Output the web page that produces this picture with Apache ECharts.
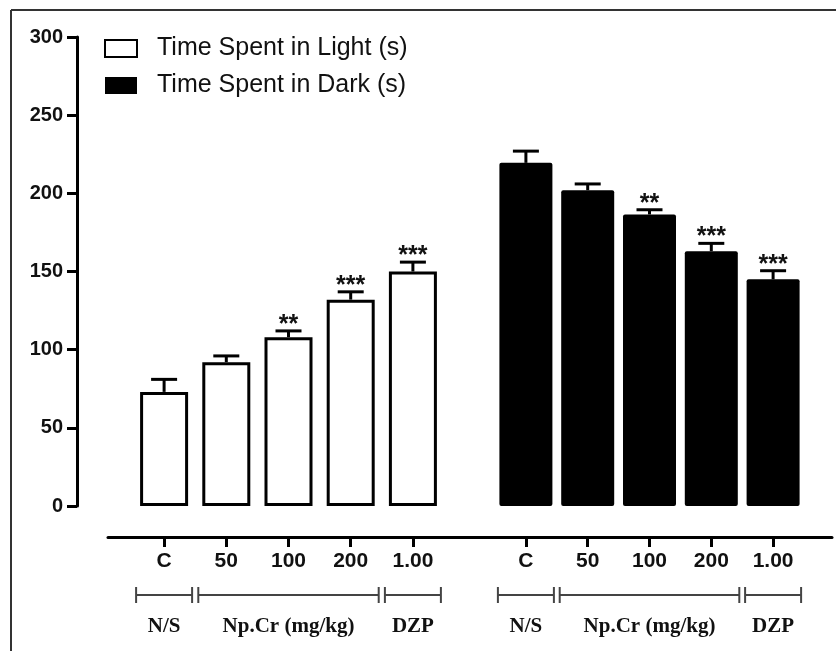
<!DOCTYPE html>
<html>
<head>
<meta charset="utf-8">
<script src="https://cdn.jsdelivr.net/npm/echarts@6/dist/echarts.min.js"></script>
<style>
html,body{margin:0;padding:0;background:#fff;}
#chart{width:836px;height:651px;}
</style>
</head>
<body>
<div id="chart"></div>
<script>
// ---- data ----
const categories = ['C', '50', '100', '200', '1.00'];
const lightValues = [73, 92, 108, 132, 150];
const lightErrors = [8, 4, 4, 5, 6];
const lightStars = ['', '', '**', '***', '***'];
const darkValues = [219.5, 202, 186.5, 163, 145];
const darkErrors = [7.5, 4, 3, 5, 5.5];
const darkStars = ['', '', '**', '***', '***'];
const seriesNames = ['Time Spent in Light (s)', 'Time Spent in Dark (s)'];
const groupLabels = ['N/S', 'Np.Cr (mg/kg)', 'DZP'];
const groupSpans = [[0, 0], [1, 3], [4, 4]];
const yMin = 0, yMax = 300, yStep = 50;

const chart = echarts.init(document.getElementById('chart'), null, {renderer: 'canvas'});

const SANS = 'Liberation Sans, Arial, sans-serif';
const SERIF = 'Liberation Serif, Times New Roman, serif';

function errRenderer(stars) {
  return function (params, api) {
    const i = api.value(0), v = api.value(1), e = api.value(2);
    const top = api.coord([i, v]);
    const hi = api.coord([i, v + e]);
    const children = [
      {type: 'line', shape: {x1: top[0], y1: top[1], x2: top[0], y2: hi[1]},
       style: {stroke: '#000', lineWidth: 3}},
      {type: 'line', shape: {x1: top[0] - 13, y1: hi[1], x2: top[0] + 13, y2: hi[1]},
       style: {stroke: '#000', lineWidth: 3}}
    ];
    const s = stars[params.dataIndex];
    if (s) {
      children.push({type: 'text', style: {x: top[0], y: hi[1] - 6, text: s,
        font: 'bold 25px ' + SANS, fill: '#111', align: 'center', verticalAlign: 'middle'}});
    }
    return {type: 'group', children: children};
  };
}

const xAxisCommon = {
  type: 'category', data: categories, position: 'bottom', offset: 31,
  axisLine: {show: false, onZero: false},
  axisTick: {show: true, alignWithLabel: true, length: 10, lineStyle: {color: '#000', width: 3}},
  axisLabel: {color: '#111', fontFamily: SANS, fontWeight: 'bold', fontSize: 21, margin: 14},
  splitLine: {show: false}
};

const option = {
  animation: false,
  backgroundColor: '#fff',
  grid: [
    {left: 133, width: 311, top: 37, height: 469},
    {left: 495, width: 309, top: 37, height: 469},
    {left: 108, right: 4, top: 37, height: 469}
  ],
  legend: {
    orient: 'vertical', left: 104, top: 36, padding: 0, itemWidth: 32, itemHeight: 17, itemGap: 12,
    icon: 'rect', data: seriesNames, selectedMode: false,
    textStyle: {color: '#111', fontFamily: SANS, fontSize: 25, padding: [0, 0, 0, 15]}
  },
  xAxis: [
    Object.assign({gridIndex: 0}, xAxisCommon),
    Object.assign({gridIndex: 1}, xAxisCommon),
    {gridIndex: 2, type: 'value', min: 0, max: 1, offset: 31, position: 'bottom',
     axisLine: {show: true, onZero: false, lineStyle: {color: '#000', width: 3}},
     axisTick: {show: false}, axisLabel: {show: false}, splitLine: {show: false}}
  ],
  yAxis: [
    {gridIndex: 0, type: 'value', min: yMin, max: yMax, interval: yStep, offset: 56,
     axisLine: {show: true, lineStyle: {color: '#000', width: 3}},
     axisTick: {show: true, length: 10, lineStyle: {color: '#000', width: 3}},
     axisLabel: {color: '#111', fontFamily: SANS, fontWeight: 'bold', fontSize: 20, margin: 14},
     splitLine: {show: false}},
    {gridIndex: 1, type: 'value', min: yMin, max: yMax, interval: yStep, show: false, splitLine: {show: false}},
    {gridIndex: 2, type: 'value', min: 0, max: 1, show: false, splitLine: {show: false}}
  ],
  series: [
    {name: seriesNames[0], type: 'bar', xAxisIndex: 0, yAxisIndex: 0, data: lightValues,
     barWidth: 48, itemStyle: {color: '#fff', borderColor: '#000', borderWidth: 3}},
    {name: seriesNames[1], type: 'bar', xAxisIndex: 1, yAxisIndex: 1, data: darkValues,
     barWidth: 53, itemStyle: {color: '#000', borderColor: '#000', borderWidth: 0, borderRadius: 2}},
    {type: 'custom', xAxisIndex: 0, yAxisIndex: 0, renderItem: errRenderer(lightStars),
     data: lightValues.map((v, i) => [i, v, lightErrors[i]]), encode: {x: 0, y: 1}, z: 5},
    {type: 'custom', xAxisIndex: 1, yAxisIndex: 1, renderItem: errRenderer(darkStars),
     data: darkValues.map((v, i) => [i, v, darkErrors[i]]), encode: {x: 0, y: 1}, z: 5}
  ]
};

chart.setOption(option);

// group brackets under each x axis, placed using the axes' own scale
function buildBrackets() {
  const els = [];
  const half = 28, yLine = 595, tickH = 8, yText = 627;
  [0, 1].forEach(ax => {
    groupSpans.forEach((span, g) => {
      const x1 = chart.convertToPixel({xAxisIndex: ax}, span[0]) - half;
      const x2 = chart.convertToPixel({xAxisIndex: ax}, span[1]) + half;
      const st = {stroke: '#444', lineWidth: 2};
      els.push({type: 'line', shape: {x1: x1, y1: yLine, x2: x2, y2: yLine}, style: st});
      els.push({type: 'line', shape: {x1: x1, y1: yLine - tickH, x2: x1, y2: yLine + tickH}, style: st});
      els.push({type: 'line', shape: {x1: x2, y1: yLine - tickH, x2: x2, y2: yLine + tickH}, style: st});
      els.push({type: 'text', style: {x: (x1 + x2) / 2, y: yText, text: groupLabels[g],
        font: 'bold 21px ' + SERIF, fill: '#111', align: 'center', verticalAlign: 'middle'}});
    });
  });
  // outer frame (top and left edges)
  els.push({type: 'line', shape: {x1: 11, y1: 10, x2: 836, y2: 10}, style: {stroke: '#333', lineWidth: 2}});
  els.push({type: 'line', shape: {x1: 11, y1: 10, x2: 11, y2: 651}, style: {stroke: '#333', lineWidth: 2}});
  chart.setOption({graphic: els});
}
buildBrackets();
</script>
</body>
</html>
